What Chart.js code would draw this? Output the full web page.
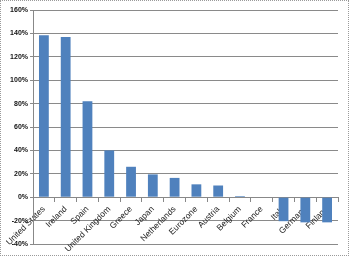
<!DOCTYPE html>
<html><head><meta charset="utf-8">
<script src="https://cdn.jsdelivr.net/npm/chart.js@4.4.0/dist/chart.umd.min.js"></script>
<style>
html,body{margin:0;padding:0;background:#fff;}
#wrap{width:349px;height:256px;box-sizing:border-box;border:1px dotted #9a9a9a;position:relative;}
canvas{display:block;}
</style></head>
<body><div id="wrap"><canvas id="c" width="347" height="254"></canvas></div>
<script>
const categories = ["United States","Ireland","Spain","United Kingdom","Greece","Japan","Netherlands","Eurozone","Austria","Belgium","France","Italy","Germany","Finland"];
const values = [138.5,137,82,40,26,19.5,16.5,11,10,1,0,-20.5,-21.5,-21.5];
const yTicks = [-40,-20,0,20,40,60,80,100,120,140,160];

new Chart(document.getElementById('c'), {
  type: 'bar',
  data: { labels: categories, datasets: [{ data: values, backgroundColor: '#4F81BD', borderWidth: 0, barPercentage: 0.45, categoryPercentage: 1 }] },
  options: {
    responsive: false, animation: false,
    layout: { padding: { top: 9, right: 10, bottom: 11, left: 0 } },
    plugins: { legend: { display: false }, tooltip: { enabled: false } },
    scales: {
      x: {
        position: { y: 0 },
        afterFit: s => { s.height = 0; },
        grid: { display: true, drawOnChartArea: false, drawTicks: true, tickLength: 4, color: '#888', offset: true },
        border: { display: true, color: '#888' },
        ticks: { maxRotation: 45, minRotation: 45, autoSkip: false, padding: 3, color: '#222', font: { family: 'Liberation Sans, Arial', size: 8.5 } }
      },
      y: {
        min: -40, max: 160,
        afterFit: s => { s.width = 32; },
        afterBuildTicks: s => { s.ticks = yTicks.map(v => ({ value: v })); },
        grid: { color: '#8a8a8a', tickLength: 3 },
        border: { display: true, color: '#888' },
        ticks: { padding: 2, color: '#111', font: { family: 'Liberation Sans, Arial', size: 7, weight: 'bold' }, callback: v => v + '%' }
      }
    }
  }
});
</script></body></html>
